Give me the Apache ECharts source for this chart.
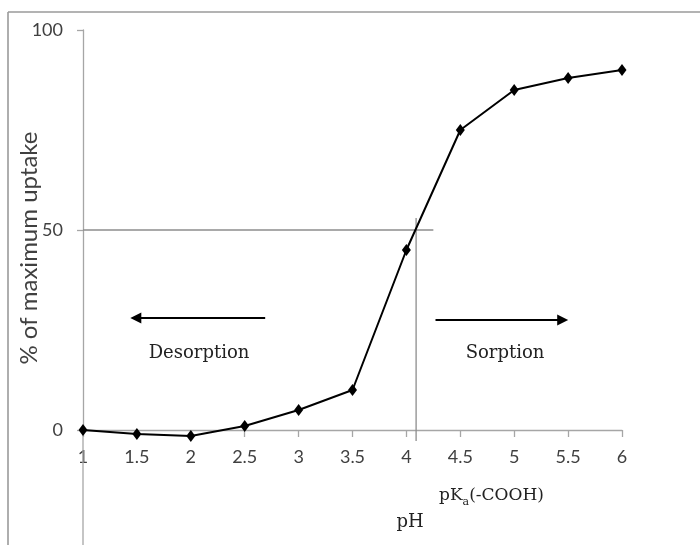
<!DOCTYPE html>
<html>
<head>
<meta charset="utf-8">
<script src="https://cdn.jsdelivr.net/npm/echarts@6/dist/echarts.min.js"></script>
<style>html,body{margin:0;padding:0;background:#fff}#c{width:700px;height:545px}</style>
</head>
<body>
<div id="c"></div>
<script>
const phValues = [1, 1.5, 2, 2.5, 3, 3.5, 4, 4.5, 5, 5.5, 6];
const uptake = [0, -1, -1.5, 1, 5, 10, 45, 75, 85, 88, 90];
const yTickValues = [0, 50, 100];
const yAxisExtensionBottom = -28.75;
const halfUptake = 50;
const halfLineEndPh = 4.25;
const pKa = 4.09;
const pKaLineTop = 53;
const pKaLineBottom = -2.75;
const desorptionArrow = [[2.69, 28], [1.49, 28]];
const sorptionArrow = [[4.27, 27.5], [5.45, 27.5]];

const chart = echarts.init(document.getElementById('c'), null, {renderer: 'canvas'});
const axisGray = '#a6a6a6';
const refGray = '#8c8c8c';
const labelColor = '#404040';
const sans = 'Lato';
const serif = 'DejaVu Serif';

const option = {
  animation: false,
  backgroundColor: '#fff',
  grid: {left: 83, right: 78, top: 30, bottom: 115, containLabel: false, outerBoundsMode: 'none'},
  xAxis: {
    type: 'value', min: 1, max: 6, interval: 0.5,
    axisLine: {onZero: false, lineStyle: {color: axisGray, width: 1.3}},
    axisTick: {show: true, length: 7, lineStyle: {color: axisGray, width: 1.3}},
    axisLabel: {color: labelColor, fontFamily: sans, fontSize: 18, margin: 18},
    splitLine: {show: false}
  },
  yAxis: {
    type: 'value', min: 0, max: 100,
    axisLine: {show: true, lineStyle: {color: axisGray, width: 1.3}},
    axisTick: {show: true, length: 6, customValues: yTickValues, lineStyle: {color: axisGray, width: 1.3}},
    axisLabel: {customValues: yTickValues, color: labelColor, fontFamily: sans, fontSize: 18, margin: 20},
    splitLine: {show: false}
  },
  series: [
    {
      type: 'line', silent: true, symbol: 'none', clip: false,
      lineStyle: {color: axisGray, width: 1.3},
      data: [[phValues[0], 0], [phValues[0], yAxisExtensionBottom]]
    },
    {
      type: 'line', silent: true, symbol: 'none', clip: false,
      lineStyle: {color: refGray, width: 1.3},
      data: [[1, halfUptake], [halfLineEndPh, halfUptake]]
    },
    {
      type: 'line', silent: true, symbol: 'none', clip: false,
      lineStyle: {color: refGray, width: 1.3},
      data: [[pKa, pKaLineTop], [pKa, pKaLineBottom]]
    },
    {
      type: 'line', silent: true, clip: false,
      data: phValues.map((x, i) => [x, uptake[i]]),
      symbol: 'diamond', symbolSize: [9, 12],
      itemStyle: {color: '#000'},
      lineStyle: {color: '#000', width: 2}
    },
    {
      type: 'line', silent: true, symbol: 'none', data: [],
      markLine: {
        silent: true, animation: false,
        symbol: ['none', 'triangle'], symbolSize: [11, 11],
        label: {show: false},
        lineStyle: {color: '#000', width: 2, type: 'solid'},
        emphasis: {disabled: true},
        data: [
          [{coord: desorptionArrow[0]}, {coord: desorptionArrow[1]}],
          [{coord: sorptionArrow[0]}, {coord: sorptionArrow[1]}]
        ]
      }
    }
  ],
  graphic: [
    {type: 'line', shape: {x1: 8, y1: 12, x2: 700, y2: 12}, style: {stroke: '#9a9a9a', lineWidth: 1.6}, silent: true},
    {type: 'line', shape: {x1: 8, y1: 12, x2: 8, y2: 545}, style: {stroke: '#9a9a9a', lineWidth: 1.6}, silent: true},
    {type: 'text', x: 29, y: 248, rotation: Math.PI / 2, silent: true,
      style: {text: '% of maximum uptake', font: '24px ' + sans, fill: labelColor, align: 'center', verticalAlign: 'middle'}},
    {type: 'text', x: 199, y: 353, silent: true,
      style: {text: 'Desorption', font: '18px "' + serif + '"', fill: '#222', align: 'center', verticalAlign: 'middle'}},
    {type: 'text', x: 505, y: 353, silent: true,
      style: {text: 'Sorption', font: '18px "' + serif + '"', fill: '#222', align: 'center', verticalAlign: 'middle'}},
    {type: 'text', x: 439, y: 493, silent: true,
      style: {
        text: '{n|pK}{s|a}{n|(-COOH)}', align: 'left', verticalAlign: 'middle',
        rich: {
          n: {fontFamily: serif, fontSize: 17, fill: '#222', lineHeight: 22, verticalAlign: 'bottom'},
          s: {fontFamily: serif, fontSize: 11, fill: '#222', lineHeight: 22, verticalAlign: 'bottom', padding: [0, 0, -4, 0]}
        }
      }},
    {type: 'text', x: 410, y: 522, silent: true,
      style: {text: 'pH', font: '18px "' + serif + '"', fill: '#222', align: 'center', verticalAlign: 'middle'}}
  ]
};
chart.setOption(option);
</script>
</body>
</html>
